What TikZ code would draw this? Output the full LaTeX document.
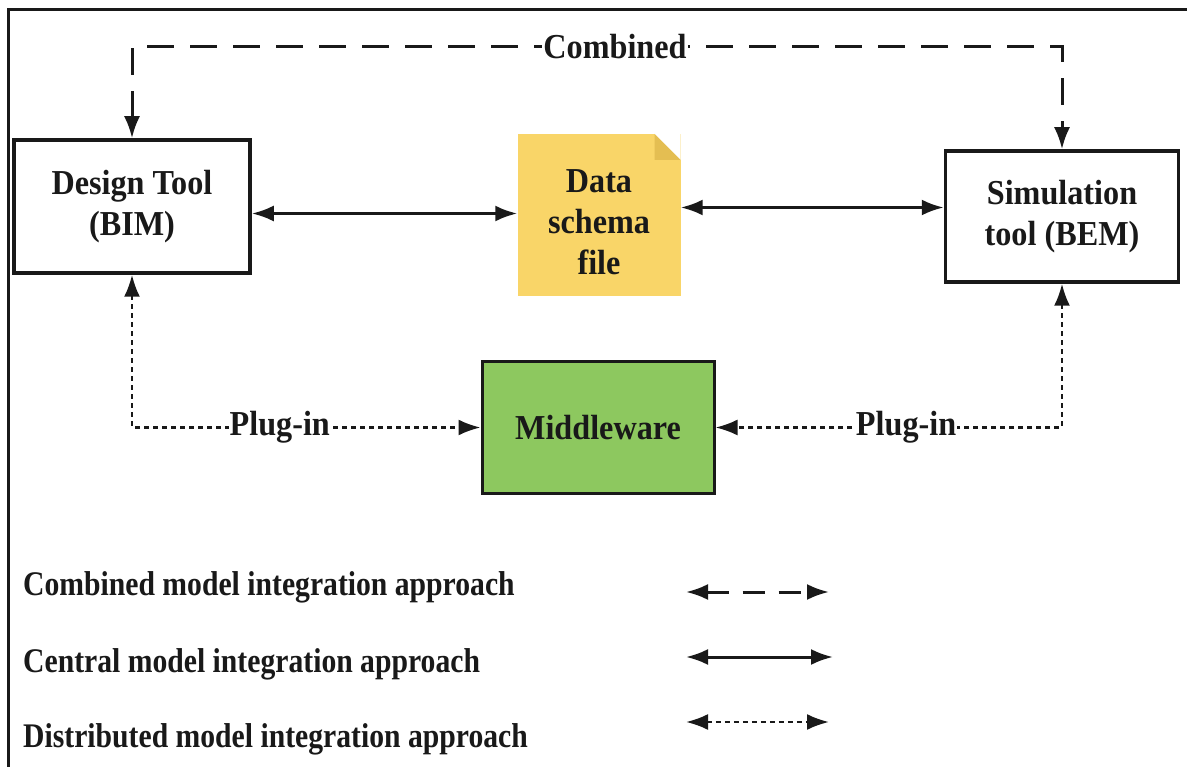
\documentclass[tikz,border=0pt]{standalone}
\usepackage{fontspec}
\setmainfont{Liberation Serif}[FakeStretch=0.92]
\newfontfamily\legfont{Liberation Serif}[FakeStretch=0.86]
\usetikzlibrary{arrows.meta}
\definecolor{fileyellow}{RGB}{249,213,104}
\definecolor{filefold}{RGB}{228,190,82}
\definecolor{mwgreen}{RGB}{141,200,95}
\definecolor{inkc}{RGB}{25,25,25}
\begin{document}
\begin{tikzpicture}[x=1pt,y=-1pt,
  font=\fontsize{35}{41}\selectfont\bfseries,
  >={Latex[length=22pt,width=16pt]},
  toolbox/.style={draw=inkc, line width=3.5pt, minimum width=236pt, minimum height=133pt, align=center, inner sep=0pt, text=inkc},
  datafile/.style={fill=fileyellow, minimum width=163pt, minimum height=162pt, inner sep=0pt,
    path picture={
      \fill[white] ([xshift=-26pt]path picture bounding box.north east) -- ([xshift=1pt,yshift=1pt]path picture bounding box.north east) -- ([yshift=-26pt]path picture bounding box.north east) -- cycle;
      \fill[filefold] ([xshift=-26pt]path picture bounding box.north east) -- ([yshift=-26pt]path picture bounding box.north east) -- ([xshift=-26pt,yshift=-26pt]path picture bounding box.north east) -- cycle;
    }},
  mwbox/.style={draw=inkc, fill=mwgreen, line width=3pt, minimum width=232pt, minimum height=131pt, inner sep=0pt, text=inkc},
  central/.style={draw=inkc, line width=3pt, <->},
  combined/.style={draw=inkc, line width=3pt, dash pattern=on 27pt off 16pt, <->},
  distributed/.style={draw=inkc, line width=2.5pt, dash pattern=on 5pt off 4pt, <->},
  onlabel/.style={fill=white, inner xsep=1pt, inner ysep=2pt, text=inkc},
  legtext/.style={anchor=base west, inner sep=0pt, text=inkc, font=\legfont\fontsize{34.5}{41}\selectfont\bfseries}
]
\useasboundingbox (0,0) rectangle (1187,767);
\fill[white] (0,0) rectangle (1187,767);
% outer frame (top and left edges visible)
\draw[inkc, line width=3pt] (8,767) -- (8,9.5) -- (1187,9.5);

% nodes
\node[toolbox] (design) at (132,206.5) {Design Tool\\(BIM)};
\node[toolbox, minimum width=233pt, minimum height=131pt] (sim) at (1062,216.5) {Simulation\\tool (BEM)};
\node[datafile] (data) at (599,215) {};
\node[align=center, inner sep=0pt, text=inkc] (datatext) at (599,222) {Data\\schema\\file};
\node[mwbox] (mw) at (598,427.5) {Middleware};

% combined connector
\coordinate (ctop) at (600,47);
\draw[combined] (design.north) -- (design.north |- ctop) -- (sim.north |- ctop) -- (sim.north);
\node[onlabel] (comblabel) at (615,47) {Combined};

% central connectors
\path (design.east) ++(0,7) coordinate (a1);
\draw[central] (a1) -- (a1 -| data.west);
\path (sim.west) ++(0,-9) coordinate (a2);
\draw[central] (a2 -| data.east) -- (a2);

% distributed connectors
\draw[distributed] (design.south) |- node[onlabel, pos=0.712] (plugl) {Plug-in} (mw.west);
\draw[distributed] (sim.south) |- node[onlabel, pos=0.725] (plugr) {Plug-in} (mw.east);

% legend
\node[legtext] (l1) at (23,595) {Combined model integration approach};
\node[legtext] (l2) at (23,672) {Central model integration approach};
\node[legtext] (l3) at (23,747) {Distributed model integration approach};
\coordinate (l1a) at (686,592);
\coordinate (l1b) at (829,592);
\coordinate (l2a) at (686,657);
\coordinate (l2b) at (833,657);
\coordinate (l3a) at (686,722);
\coordinate (l3b) at (829,722);
\draw[combined, dash pattern=on 22pt off 14pt] (l1a) -- (l1b);
\draw[central] (l2a) -- (l2b);
\draw[distributed] (l3a) -- (l3b);
\end{tikzpicture}
\end{document}
